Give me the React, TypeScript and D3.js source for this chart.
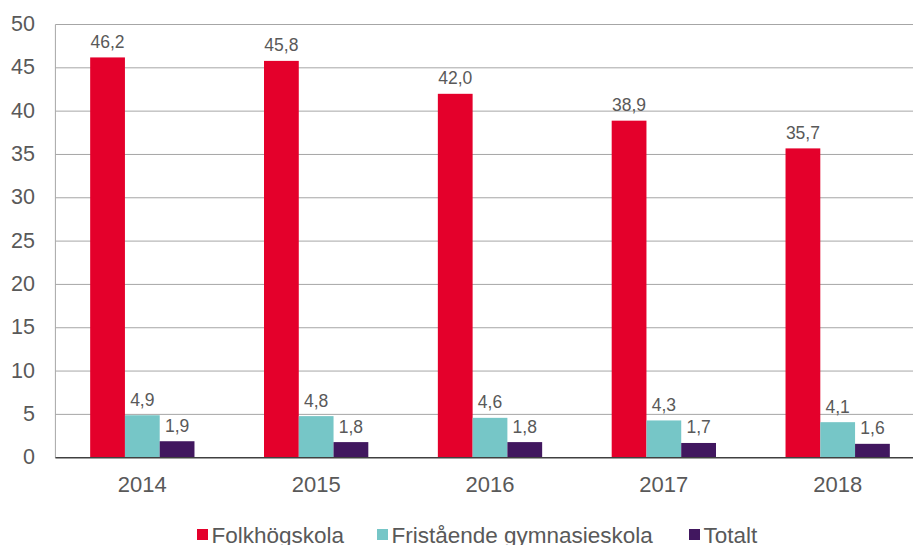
import React from "react";
import * as d3 from "d3";

const years = ["2014", "2015", "2016", "2017", "2018"];
const seriesNames = ["Folkhögskola", "Fristående gymnasieskola", "Totalt"];
const folkhogskola = [46.2, 45.8, 42.0, 38.9, 35.7];
const fristaende = [4.9, 4.8, 4.6, 4.3, 4.1];
const totalt = [1.9, 1.8, 1.8, 1.7, 1.6];
const colors = ["#E4002B", "#76C6C7", "#41175F"];
const yTicks = [0, 5, 10, 15, 20, 25, 30, 35, 40, 45, 50];

export default function App() {
  const W = 913, H = 545;
  const left = 55.4, right = 924.6, top = 24.5, bottom = 457.7;
  const series = [folkhogskola, fristaende, totalt];
  const x = d3.scaleBand<string>().domain(years).range([left, right]).paddingInner(0.4).paddingOuter(0.2);
  const x1 = d3.scaleBand<number>().domain([0, 1, 2]).range([0, x.bandwidth()]);
  const y = d3.scaleLinear().domain([0, 50]).range([bottom, top]);
  const font = "'Liberation Sans', Arial, sans-serif";
  const txt = "#595959";
  const legendX = [197, 377, 689];
  return (
    <svg width={W} height={H} style={{ position: "absolute", left: 0, top: 0 }} fontFamily={font}>
      <rect width={W} height={H} fill="#fff" />
      {yTicks.map((t) => (
        <g key={t}>
          {t > 0 && <line x1={left} x2={W} y1={y(t)} y2={y(t)} stroke="#A6A6A6" strokeWidth={1} />}
          <text x={35} y={y(t)} dy="0.3em" textAnchor="end" fontSize={21.5} fill={txt}>{t}</text>
        </g>
      ))}
      <line x1={left} x2={left} y1={top} y2={bottom} stroke="#A6A6A6" strokeWidth={1} />
      {years.map((yr, i) => (
        <g key={yr}>
          {series.map((s, j) => {
            const bx = (x(yr) as number) + (x1(j) as number);
            const bw = x1.bandwidth();
            return (
              <g key={j}>
                <rect x={bx} y={y(s[i])} width={bw} height={bottom - y(s[i])} fill={colors[j]} />
                <text x={bx + bw / 2} y={y(s[i]) - 9.5} textAnchor="middle" fontSize={17.5} fill={txt}>
                  {s[i].toFixed(1).replace(".", ",")}
                </text>
              </g>
            );
          })}
          <text x={(x(yr) as number) + x.bandwidth() / 2} y={491.5} textAnchor="middle" fontSize={22} fill={txt}>{yr}</text>
        </g>
      ))}
      <line x1={left} x2={W} y1={bottom} y2={bottom} stroke="#404040" strokeWidth={1.5} />
      {seriesNames.map((n, j) => (
        <g key={n}>
          <rect x={legendX[j]} y={529} width={11} height={11} fill={colors[j]} />
          <text x={legendX[j] + 14.5} y={542.5} fontSize={22.5} fill={txt}>{n}</text>
        </g>
      ))}
    </svg>
  );
}
